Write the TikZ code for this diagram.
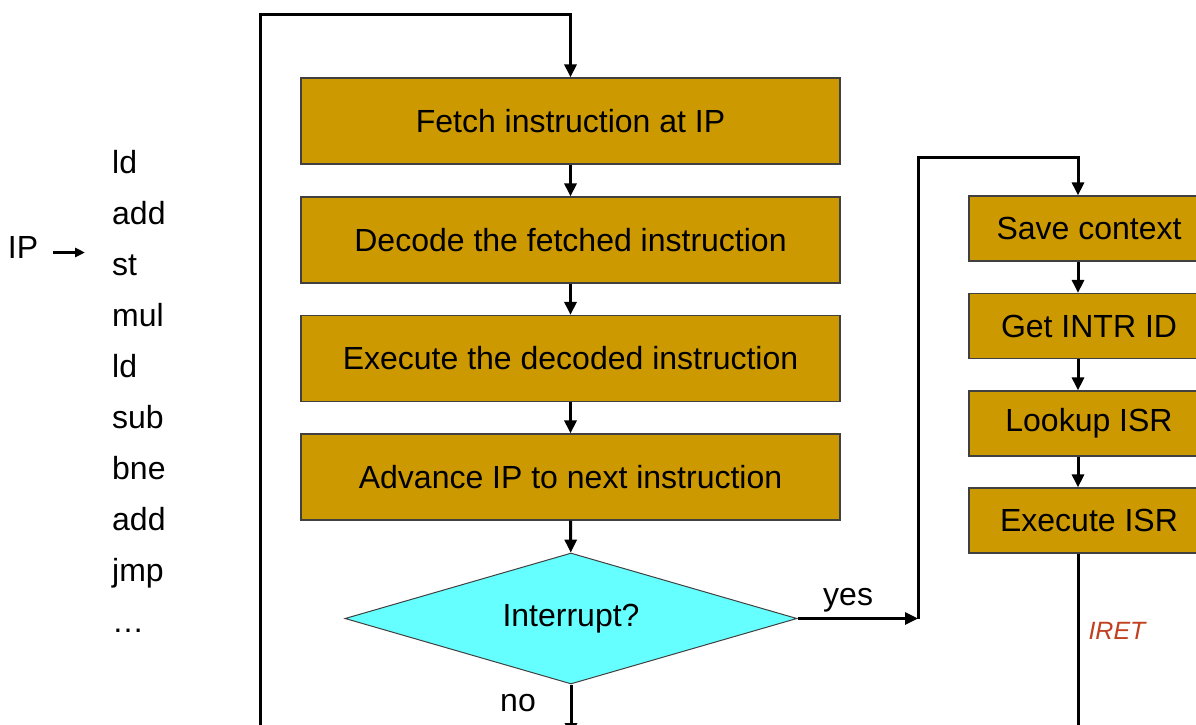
\documentclass[tikz,border=0pt]{standalone}
\usepackage{fontspec}
\setmainfont{Liberation Sans}
\usepackage{xcolor}
\usepackage{tikz}
\usetikzlibrary{shapes,arrows,positioning,calc,arrows.meta}

\definecolor{boxgold}{RGB}{204,153,0}
\definecolor{diacyan}{RGB}{102,255,255}
\definecolor{iretred}{RGB}{192,64,32}

\tikzset{
    procbox/.style={draw=black!75, line width=1.2pt, fill=boxgold, minimum width=539pt, minimum height=86pt, inner sep=0pt},
    isrbox/.style={draw=black!75, line width=1.2pt, fill=boxgold, minimum width=240pt, minimum height=65pt, inner sep=0pt},
    decision/.style={diamond, draw=black!75, line width=1pt, fill=diacyan, aspect=3.45, minimum width=452pt, minimum height=131pt, inner sep=0pt},
    flow/.style={line width=3pt, -{Triangle[length=13pt,width=12pt]}},
    plain/.style={line width=3pt},
    listitem/.style={anchor=base west, inner sep=0pt},
}

\begin{document}
\begin{tikzpicture}[x=1pt, y=-1pt, font=\fontsize{32}{38}\selectfont]
    \useasboundingbox (0,0) rectangle (1196,725);
    \clip (0,0) rectangle (1196,725);

    % main cycle
    \node[procbox] (fetch) at (570.5,121) {Fetch instruction at IP};
    \node[procbox] (decode) at (570.5,240) {Decode the fetched instruction};
    \node[procbox] (exec) at (570.5,358.5) {Execute the decoded instruction};
    \node[procbox] (adv) at (570.5,477) {Advance IP to next instruction};
    \node[decision] (intr) at (571,618.5) {Interrupt?};

    \draw[flow] (fetch) -- (decode);
    \draw[flow] (decode) -- (exec);
    \draw[flow] (exec) -- (adv);
    \draw[flow] (adv) -- (intr);

    % loop back to fetch
    \coordinate (loopin) at (260,740);
    \coordinate (looptop) at (260,15);
    \draw[flow] (loopin) -- (looptop) -| (fetch.north);

    \coordinate (noend) at (571,736);
    \draw[flow] (intr.south) -- (noend);
    \node (nolbl) at (518,703) {no};

    % interrupt handling
    \node[isrbox] (save) at (1089,228.5) {Save context};
    \node[isrbox] (getid) at (1089,326) {Get INTR ID};
    \node[isrbox] (lookup) at (1089,423.5) {Lookup ISR};
    \node[isrbox] (runisr) at (1089,520.5) {Execute ISR};

    \draw[flow] ([xshift=-11pt]save.south) -- ([xshift=-11pt]getid.north);
    \draw[flow] ([xshift=-11pt]getid.south) -- ([xshift=-11pt]lookup.north);
    \draw[flow] ([xshift=-11pt]lookup.south) -- ([xshift=-11pt]runisr.north);

    \coordinate (yescorner) at (918,618.5);
    \coordinate (yestop) at (918,157);
    \draw[flow] (intr.east) -- (yescorner) node[pos=0.42, above=2pt] {yes};
    \draw[flow] (yescorner) -- (yestop) -| ([xshift=-11pt]save.north);

    \coordinate (iretend) at (1078,748);
    \draw[plain] ([xshift=-11pt]runisr.south) -- (iretend);
    \node[text=iretred, font=\fontsize{25}{30}\selectfont\itshape] (iret) at (1117,631) {IRET};

    % instruction list
    \foreach \w [count=\i] in {ld,add,st,mul,ld,sub,bne,add,jmp,\dots}
        \node[listitem] (i\i) at (112,{122+51*\i}) {\w};
    \node[inner sep=0pt] (ip) at (23,247.5) {IP};
    \draw[line width=3pt, -{Triangle[length=10pt,width=9pt]}] ([xshift=15pt,yshift=-5pt]ip.east) -- ([yshift=-5pt]ip.east -| i3.west) [shorten >=27pt];
\end{tikzpicture}
\end{document}
